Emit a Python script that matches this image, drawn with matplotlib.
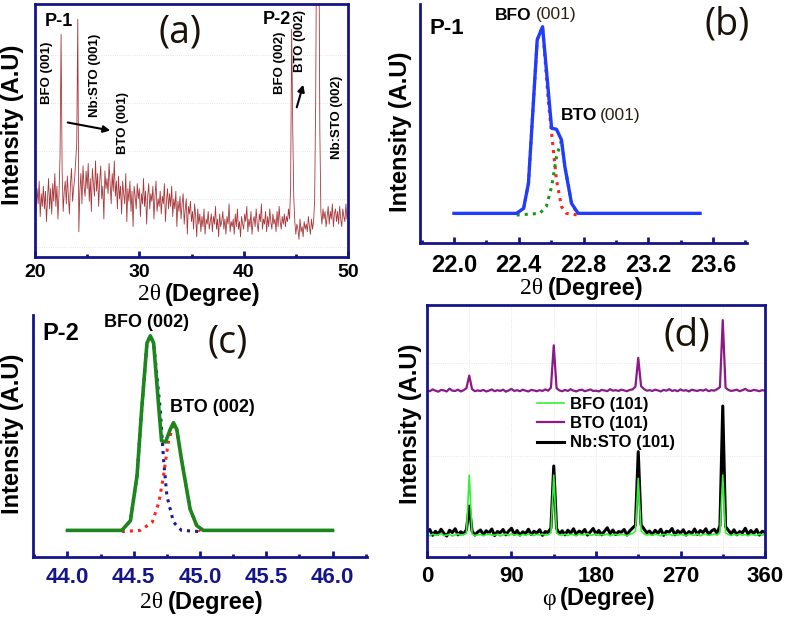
import matplotlib.pyplot as plt
import numpy as np
from matplotlib.ticker import MultipleLocator

plt.rcParams['font.family'] = ['Liberation Sans', 'DejaVu Sans']
plt.rcParams['font.weight'] = 'bold'

W, H = 787, 618
NAVY = '#15158a'

# (a) wide 2theta scan, 20..50 deg, step 0.1
two_theta_a = np.round(np.arange(20, 50.05, 0.1), 1)
intensity_a = [
    24, 18, 27, 21, 30, 16, 25, 20, 28, 19,
    26, 14, 23, 31, 19, 27, 17, 29, 22, 33,
    20, 28, 15, 25, 40, 88, 34, 18, 26, 30,
    21, 32, 24, 17, 29, 35, 22, 27, 31, 38,
    45, 94, 10, 26, 33, 21, 36, 28, 24, 34,
    27, 37, 22, 31, 18, 35, 29, 24, 38, 26,
    33, 20, 30, 36, 23, 28, 15, 34, 27, 31,
    25, 37, 29, 21, 33, 26, 38, 24, 30, 19,
    32, 23, 28, 17, 30, 25, 21, 33, 14, 27,
    22, 30, 18, 26, 12, 28, 24, 19, 29, 23,
    27, 16, 25, 21, 31, 20, 26, 13, 24, 29,
    19, 25, 22, 28, 15, 24, 30, 18, 23, 20,
    26, 17, 24, 21, 29, 14, 22, 27, 19, 25,
    20, 28, 16, 23, 19, 26, 12, 22, 18, 24,
    15, 21, 25, 13, 19, 23, 9, 20, 17, 22,
    14, 18, 11, 21, 16, 8, 19, 13, 17, 10,
    16, 12, 19, 9, 15, 13, 18, 11, 14, 17,
    10, 16, 13, 20, 11, 15, 8, 17, 12, 14,
    18, 11, 15, 9, 16, 13, 21, 10, 14, 12,
    15, 9, 17, 12, 19, 11, 14, 8, 16, 13,
    11, 17, 14, 20, 10, 15, 12, 18, 9, 14,
    16, 12, 19, 13, 10, 17, 14, 21, 11, 15,
    13, 18, 10, 16, 12, 19, 14, 11, 17, 13,
    15, 10, 18, 12, 20, 14, 11, 16, 13, 17,
    12, 16, 14, 19, 15, 28, 90, 52, 24, 14,
    9, 13, 11, 7, 15, 10, 12, 8, 14, 11,
    13, 10, 16, 12, 9, 15, 11, 14, 22, 60,
    140, 150, 140, 50, 18, 13, 19, 15, 18, 12,
    16, 20, 13, 18, 15, 21, 12, 17, 19, 14,
    18, 13, 20, 15, 12, 19, 16, 14, 21, 15,
    17,
]
ticks_a = [20, 30, 40, 50]

# (b) P-1 fit
b_total_x = [22.0, 22.387, 22.43, 22.46, 22.514, 22.547, 22.603, 22.633, 22.664, 22.685, 22.726, 22.767, 23.52]
b_total_y = [12.4, 12.4, 14.5, 25, 85, 90.5, 48, 47.6, 43.1, 31.9, 16.6, 12.4, 12.4]
b_bfo_x = [22.387, 22.43, 22.46, 22.514, 22.547, 22.582, 22.603, 22.633, 22.664, 22.695, 22.767]
b_bfo_y = [12.4, 14.5, 25, 85, 90.5, 59.8, 45.9, 26.4, 15.2, 12.4, 11.7]
b_bto_x = [22.387, 22.53, 22.57, 22.603, 22.633, 22.664, 22.685, 22.726, 22.767]
b_bto_y = [11.7, 12.4, 15.2, 23.6, 36, 43, 32, 16.6, 11.7]
ticks_b = [22.0, 22.4, 22.8, 23.2, 23.6]

# (c) P-2 fit
c_total_x = [44.0, 44.41, 44.475, 44.525, 44.56, 44.6, 44.625, 44.65, 44.69, 44.71, 44.74,
             44.775, 44.8, 44.825, 44.86, 44.925, 44.975, 45.025, 46.0]
c_total_y = [11, 11, 15, 33.6, 61, 88.4, 91.4, 88.4, 61, 48, 47.5, 52.7, 55.5, 52.7, 40.4, 19.9, 13, 11, 11]
c_bfo_x = [44.41, 44.475, 44.525, 44.56, 44.6, 44.625, 44.65, 44.7, 44.725, 44.75, 44.8, 44.86, 45.0]
c_bfo_y = [11, 15, 33.6, 61, 88.4, 91.4, 88.4, 61, 40.4, 25.3, 14.4, 11, 10.5]
c_bto_x = [44.41, 44.55, 44.64, 44.69, 44.725, 44.76, 44.8, 44.825, 44.86, 44.925, 44.975, 45.0]
c_bto_y = [10.5, 11, 14.4, 22.6, 33.6, 47.3, 54.8, 52.7, 40.4, 19.9, 13, 10.5]
ticks_c = [44.0, 44.5, 45.0, 45.5, 46.0]

# (d) phi scans, 0..360 deg, step 3
phi = np.arange(0, 361, 3)
bto_phi = [
    66.2, 65.8, 66.5, 66.0, 65.6, 66.3, 66.1, 65.7, 66.8, 66.0,
    65.9, 66.4, 65.7, 66.2, 67.0, 72.0, 66.6, 65.8, 66.1, 65.9,
    66.3, 65.7, 66.0, 66.5, 65.8, 66.2, 65.9, 66.4, 65.6, 66.1,
    66.7, 65.9, 66.2, 65.8, 66.4, 66.0, 65.7, 66.3, 66.1, 65.8,
    66.2, 65.9, 66.5, 66.0, 67.2, 84.0, 67.0, 66.1, 65.8, 66.3,
    65.9, 66.6, 66.0, 65.7, 66.2, 66.4, 65.8, 66.1, 66.5, 65.9,
    66.0, 65.7, 66.3, 66.1, 65.8, 66.6, 66.0, 66.2, 65.9, 66.4,
    66.1, 65.8, 66.3, 66.5, 67.6, 79.0, 67.8, 66.7, 66.0, 66.2,
    65.9, 66.4, 66.1, 65.7, 66.3, 66.0, 66.6, 65.9, 66.2, 65.8,
    66.5, 66.0, 66.2, 65.7, 66.4, 66.1, 65.9, 66.3, 66.0, 66.5,
    65.8, 66.2, 66.0, 66.6, 67.4, 94.0, 67.2, 66.3, 65.9, 66.1,
    66.4, 65.8, 66.2, 66.7, 66.0, 65.9, 66.3, 66.1, 65.8, 66.2, 66.0,
]
sto_phi = [
    9.8, 10.9, 8.6, 10.2, 9.1, 11.0, 9.4, 8.3, 10.6, 9.7,
    11.2, 8.8, 10.0, 9.2, 10.8, 20.2, 10.3, 8.7, 9.9, 10.7,
    8.9, 10.4, 9.5, 11.1, 8.5, 10.1, 9.6, 10.9, 8.8, 10.3,
    11.4, 9.0, 10.5, 8.7, 10.0, 9.3, 11.0, 8.9, 10.2, 9.5,
    10.8, 8.6, 10.1, 9.7, 11.5, 36.1, 11.3, 9.2, 10.4, 8.8,
    10.6, 9.4, 11.2, 8.9, 10.3, 9.6, 10.9, 8.7, 10.0, 11.3,
    9.1, 10.5, 8.8, 10.2, 11.6, 9.3, 10.7, 8.9, 10.1, 9.8,
    10.9, 8.7, 10.4, 11.5, 12.6, 41.8, 12.8, 11.2, 9.6, 10.3,
    8.9, 10.6, 9.4, 11.0, 8.6, 10.2, 9.9, 11.3, 8.8, 10.4,
    9.5, 10.8, 8.7, 10.1, 9.3, 11.1, 9.0, 10.5, 9.7, 11.2,
    8.9, 10.3, 11.0, 9.4, 12.4, 59.9, 12.0, 10.6, 9.2, 10.8,
    8.8, 10.1, 9.6, 11.4, 9.0, 10.5, 9.3, 10.9, 8.7, 10.2, 9.8,
]
bfo_phi = [
    8.9, 8.4, 9.1, 8.6, 8.8, 9.3, 8.5, 8.7, 9.0, 8.3,
    8.8, 9.2, 8.6, 8.9, 9.4, 32.5, 9.1, 8.5, 8.8, 9.0,
    8.4, 8.9, 9.2, 8.6, 8.7, 9.0, 8.3, 8.8, 9.1, 8.5,
    9.3, 8.7, 8.9, 8.4, 9.0, 8.6, 9.2, 8.8, 8.5, 9.0,
    8.7, 9.1, 8.6, 8.9, 9.6, 32.5, 9.5, 8.8, 8.6, 9.1,
    8.5, 9.0, 8.8, 8.4, 9.2, 8.7, 8.9, 9.3, 8.6, 8.8,
    9.1, 8.5, 8.9, 8.7, 9.2, 8.4, 8.8, 9.0, 8.6, 9.1,
    8.8, 8.5, 9.0, 9.3, 10.2, 31.2, 10.4, 9.2, 8.7, 8.9,
    8.6, 9.1, 8.8, 8.4, 9.0, 8.7, 9.2, 8.5, 8.9, 8.6,
    9.0, 8.7, 8.5, 9.1, 8.8, 8.6, 9.2, 8.4, 8.9, 9.0,
    8.6, 8.8, 9.1, 8.7, 9.8, 32.5, 9.6, 8.9, 8.5, 9.0,
    8.7, 9.2, 8.6, 8.9, 8.4, 9.0, 8.8, 8.5, 9.1, 8.7, 8.9,
]
ticks_d = [0, 90, 180, 270, 360]

fig = plt.figure(figsize=(W / 100, H / 100), dpi=100)


def box(l, t, r, b):
    ax = fig.add_axes([l / W, 1 - b / H, (r - l) / W, (b - t) / H])
    ax.px_height = b - t
    return ax


def ftxt(x, y, s, **kw):
    kw.setdefault('ha', 'center')
    kw.setdefault('va', 'center')
    return fig.text(x / W, 1 - y / H, s, **kw)


def style(ax, frame, ticks, minor, fmt, tick_size, tick_color, base_px):
    for side in ['left', 'right', 'top', 'bottom']:
        ax.spines[side].set_color(NAVY)
        ax.spines[side].set_linewidth(2)
    if not frame:
        ax.spines['right'].set_visible(False)
        ax.spines['top'].set_visible(False)
    ax.set_yticks([])
    ax.set_xticks(ticks)
    ax.xaxis.set_minor_locator(MultipleLocator(minor))
    ax.tick_params(axis='x', which='both', direction='in', color=NAVY, top=False, labelbottom=False)
    ax.tick_params(axis='x', which='major', length=4, width=2)
    ax.tick_params(axis='x', which='minor', length=2, width=2)
    # bold tick labels, baseline base_px pixels below the axis
    for v in ticks:
        ax.text(v, -base_px / ax.px_height, fmt.format(v), transform=ax.get_xaxis_transform(),
                ha='center', va='baseline', fontsize=tick_size, color=tick_color,
                fontweight='bold', clip_on=False)


def xlabel(x_theta, x_rest, y, sym='2θ'):
    ftxt(x_theta, y, sym, ha='right', fontsize=17, family='Liberation Serif', fontweight='normal')
    ftxt(x_rest, y, '(Degree)', ha='left', fontsize=17)


def ylabel(x, y):
    ftxt(x, y, 'Intensity (A.U)', rotation=90, fontsize=17)


# ---------------- (a)
ax = box(35, 4, 348, 257)
ax.plot(two_theta_a, intensity_a, color='#a8383c', lw=0.6)
ax.set_xlim(20, 50)
ax.set_ylim(0, 100)
style(ax, True, ticks_a, 5, '{:d}', 14, 'black', 20)
for g in [4, 23, 42, 61, 80]:
    ax.axhline(g, color='#dcdcdc', lw=0.6, ls=':', zorder=0)
xlabel(161, 165, 295)
ylabel(13, 125)
ftxt(180, 33, '(a)', fontsize=27, family='Open Sans', fontweight='normal', color='#1a1208')
ftxt(59, 22, 'P-1', fontsize=13)
ftxt(277, 19, 'P-2', fontsize=13)
ftxt(47, 73, 'BFO (001)', rotation=90, fontsize=9.5)
ftxt(95, 75, 'Nb:STO (001)', rotation=90, fontsize=9.5)
ftxt(123, 123, 'BTO (001)', rotation=90, fontsize=9.5)
ftxt(280, 63, 'BFO (002)', rotation=90, fontsize=9.5)
ftxt(300, 41, 'BTO (002)', rotation=90, fontsize=9.5)
ftxt(337, 117, 'Nb:STO (002)', rotation=90, fontsize=9.5)
for (x0, y0), (x1, y1) in [((65, 122), (113, 131)), ((296, 110), (304, 82))]:
    ax.annotate('', xy=(x1 / W, 1 - y1 / H), xycoords='figure fraction',
                xytext=(x0 / W, 1 - y0 / H), textcoords='figure fraction',
                arrowprops=dict(arrowstyle='-|>', color='black', lw=1.5, mutation_scale=10))

# ---------------- (b)
ax = box(420, 4, 747, 243)
ax.plot(b_bfo_x, b_bfo_y, color='#ff2020', lw=2.2, ls=':')
ax.plot(b_bto_x, b_bto_y, color='#159a15', lw=2.2, ls=':')
ax.plot(b_total_x, b_total_y, color='#1f3cff', lw=2.4)
ax.set_xlim(21.79, 23.81)
ax.set_ylim(0, 100)
style(ax, False, ticks_b, 0.2, '{:.1f}', 17, 'black', 29)
xlabel(543, 548, 288)
ylabel(400, 132)
ftxt(727, 25, '(b)', fontsize=27, family='Open Sans', fontweight='normal', color='#1a1208')
ftxt(447, 29, 'P-1', fontsize=16)
ftxt(532, 15, 'BFO', ha='right', fontsize=12.5)
ftxt(536, 15, '(001)', ha='left', fontsize=12.5, fontweight='normal', color='#2a2010')
ftxt(597, 115, 'BTO', ha='right', fontsize=12.5)
ftxt(600, 115, '(001)', ha='left', fontsize=12.5, fontweight='normal', color='#2a2010')

# ---------------- (c)
ax = box(33, 315, 367, 557)
ax.plot(c_bfo_x, c_bfo_y, color='#1a1a9a', lw=2.2, ls=':')
ax.plot(c_bto_x, c_bto_y, color='#ff2020', lw=2.2, ls=':')
ax.plot(c_total_x, c_total_y, color='#1b861b', lw=2.6)
ax.set_xlim(43.74, 46.26)
ax.set_ylim(0, 100)
style(ax, False, ticks_c, 0.25, '{:.1f}', 16, NAVY, 26)
xlabel(163, 168, 602)
ylabel(13, 434)
ftxt(228, 343, '(c)', fontsize=27, family='Open Sans', fontweight='normal', color='#1a1208')
ftxt(61, 333, 'P-2', fontsize=17)
ftxt(147, 323, 'BFO (002)', fontsize=13)
ftxt(212, 408, 'BTO (002)', fontsize=13)

# ---------------- (d)
ax = box(427, 305, 765, 557)
ax.plot(phi, sto_phi, color='black', lw=2.2, label='Nb:STO (101)')
ax.plot(phi, bfo_phi, color='#33f033', lw=1.2, label='BFO (101)')
ax.plot(phi, bto_phi, color='#8a1a88', lw=1.6, label='BTO (101)')
ax.set_xlim(0, 360)
ax.set_ylim(0, 100)
style(ax, True, ticks_d, 45, '{:d}', 16, 'black', 25)
for g in [45, 90, 135, 180, 225, 270, 315]:
    ax.axvline(g, color='#e2e2e2', lw=0.6, ls=':', zorder=0)
for g in [4, 40, 77]:
    ax.axhline(g, color='#e2e2e2', lw=0.6, ls=':', zorder=0)
handles, labels = ax.get_legend_handles_labels()
order = [1, 2, 0]
ax.legend([handles[i] for i in order], [labels[i] for i in order],
          loc='upper left', bbox_to_anchor=(537 / W, 1 - 397 / H), bbox_transform=fig.transFigure,
          frameon=False, borderpad=0, borderaxespad=0, handlelength=1.6, handletextpad=0.4,
          labelspacing=0.25, prop={'size': 12, 'weight': 'bold'})
xlabel(556, 560, 599, sym='φ')
ylabel(410, 424)
ftxt(687, 335, '(d)', fontsize=28, family='Open Sans', fontweight='normal', color='#1a1208')

fig.savefig('out.png', dpi=100)
